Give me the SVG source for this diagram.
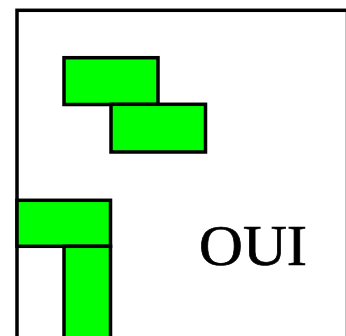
<svg xmlns="http://www.w3.org/2000/svg" width="346" height="336" viewBox="0 0 346 336">
<style>
.frame{fill:#ffffff;stroke:#000000;stroke-width:3.5}
.blk{fill:#00ff00;stroke:#000000;stroke-width:3.5}
.lbl{font-family:"Liberation Serif","Times New Roman",serif;font-size:56px;fill:#000000;stroke:#000000;stroke-width:0.7}
</style>
<rect width="346" height="336" fill="#ffffff"/>
<g id="frame"><rect class="frame" x="17" y="10.3" width="330.5" height="340"/></g>
<g id="block1"><rect class="blk" x="64" y="57.7" width="94" height="46.8"/></g>
<g id="block2"><rect class="blk" x="111" y="104.3" width="94.5" height="47.7"/></g>
<g id="block3"><rect class="blk" x="17" y="200.3" width="93.5" height="46"/></g>
<g id="block4"><rect class="blk" x="64" y="246.3" width="46.5" height="100"/></g>
<g id="connectors"></g>
<g id="label"><text class="lbl" x="199" y="265" textLength="108" lengthAdjust="spacingAndGlyphs">OUI</text></g>
</svg>
